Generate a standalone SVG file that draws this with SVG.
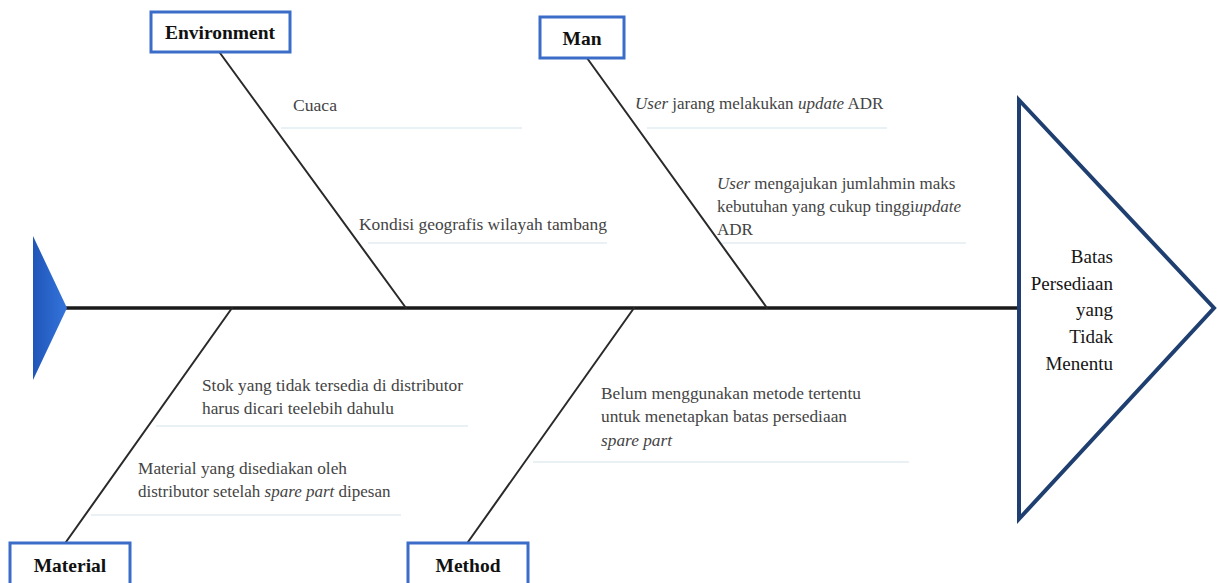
<svg xmlns="http://www.w3.org/2000/svg" width="1218" height="583" viewBox="0 0 1218 583">
  <defs>
    <linearGradient id="tailGrad" x1="0" y1="0" x2="1" y2="0">
      <stop offset="0" stop-color="#1f56b8"/>
      <stop offset="1" stop-color="#3574dc"/>
    </linearGradient>
    <style>
      .box { fill: #ffffff; stroke: #3a6cc8; stroke-width: 3; }
      .boxlabel { font-family: "Liberation Serif", "Times New Roman", serif; font-weight: bold; font-size: 19.5px; fill: #111111; text-anchor: middle; }
      .bone { stroke: #2a2a2a; stroke-width: 2; fill: none; stroke-linecap: round; }
      .spine { stroke: #1a1a1a; stroke-width: 3.5; fill: none; }
      .sep { stroke: #e3ecf0; stroke-width: 1.5; fill: none; }
      .cause { font-family: "Liberation Serif", "Times New Roman", serif; font-size: 17.5px; fill: #444444; }
      .mixed { font-size: 17px; }
      .it { font-style: italic; }
      .head { fill: #ffffff; stroke: #1f3f70; stroke-width: 4; stroke-linejoin: miter; }
      .headlabel { font-family: "Liberation Serif", "Times New Roman", serif; font-size: 19px; fill: #151515; text-anchor: end; }
    </style>
  </defs>
  <rect width="1218" height="583" fill="#ffffff"/>

  <g id="connectors">
    <line class="spine" x1="66" y1="308" x2="1020" y2="308"/>
    <line class="bone" x1="220" y1="53" x2="406" y2="308"/>
    <line class="bone" x1="587" y1="58" x2="767" y2="308"/>
    <line class="bone" x1="66" y1="542" x2="232" y2="308"/>
    <line class="bone" x1="468" y1="542" x2="634" y2="308"/>
  </g>

  <g id="tail">
    <polygon points="33,236 67,308 33,380" fill="url(#tailGrad)"/>
  </g>

  <g id="head">
    <polygon class="head" points="1019,100 1214,308 1019,519"/>
    <text class="headlabel" x="1113" y="263">Batas</text>
    <text class="headlabel" x="1113" y="290">Persediaan</text>
    <text class="headlabel" x="1113" y="316">yang</text>
    <text class="headlabel" x="1113" y="343">Tidak</text>
    <text class="headlabel" x="1113" y="370">Menentu</text>
  </g>

  <g id="environment">
    <rect class="box" x="151" y="12" width="139" height="40"/>
    <text class="boxlabel" x="220" y="39">Environment</text>
  </g>
  <g id="man">
    <rect class="box" x="540" y="17" width="84" height="41"/>
    <text class="boxlabel" x="582" y="45">Man</text>
  </g>
  <g id="material">
    <rect class="box" x="10" y="543" width="120" height="44"/>
    <text class="boxlabel" x="70" y="572">Material</text>
  </g>
  <g id="method">
    <rect class="box" x="408" y="543" width="120" height="44"/>
    <text class="boxlabel" x="468" y="572">Method</text>
  </g>

  <g id="cause-cuaca">
    <text class="cause" x="293" y="111" textLength="44" lengthAdjust="spacingAndGlyphs">Cuaca</text>
    <line class="sep" x1="281" y1="128" x2="522" y2="128"/>
  </g>
  <g id="cause-kondisi">
    <text class="cause" x="359" y="230" textLength="248" lengthAdjust="spacingAndGlyphs">Kondisi geografis wilayah tambang</text>
    <line class="sep" x1="368" y1="243" x2="607" y2="243"/>
  </g>
  <g id="cause-user-jarang">
    <text class="cause mixed" x="635" y="109"><tspan class="it">User</tspan> jarang melakukan <tspan class="it">update</tspan> ADR</text>
    <line class="sep" x1="647" y1="128" x2="887" y2="128"/>
  </g>
  <g id="cause-user-mengajukan">
    <text class="cause mixed" x="717" y="189"><tspan class="it">User</tspan> mengajukan jumlahmin maks</text>
    <text class="cause mixed" x="717" y="212">kebutuhan yang cukup tinggi<tspan class="it">update</tspan></text>
    <text class="cause" x="717" y="235" textLength="36" lengthAdjust="spacingAndGlyphs">ADR</text>
    <line class="sep" x1="722" y1="243" x2="966" y2="243"/>
  </g>
  <g id="cause-stok">
    <text class="cause" x="202" y="391" textLength="261" lengthAdjust="spacingAndGlyphs">Stok yang tidak tersedia di distributor</text>
    <text class="cause" x="202" y="414" textLength="192" lengthAdjust="spacingAndGlyphs">harus dicari teelebih dahulu</text>
    <line class="sep" x1="156" y1="426" x2="468" y2="426"/>
  </g>
  <g id="cause-material">
    <text class="cause" x="138" y="474" textLength="209" lengthAdjust="spacingAndGlyphs">Material yang disediakan oleh</text>
    <text class="cause mixed" x="138" y="497">distributor setelah <tspan class="it">spare part</tspan> dipesan</text>
    <line class="sep" x1="91" y1="515" x2="401" y2="515"/>
  </g>
  <g id="cause-belum">
    <text class="cause" x="601" y="399" textLength="260" lengthAdjust="spacingAndGlyphs">Belum menggunakan metode tertentu</text>
    <text class="cause" x="601" y="422" textLength="246" lengthAdjust="spacingAndGlyphs">untuk menetapkan batas persediaan</text>
    <text class="cause it" x="601" y="446" textLength="71" lengthAdjust="spacingAndGlyphs">spare part</text>
    <line class="sep" x1="533" y1="462" x2="909" y2="462"/>
  </g>
</svg>
